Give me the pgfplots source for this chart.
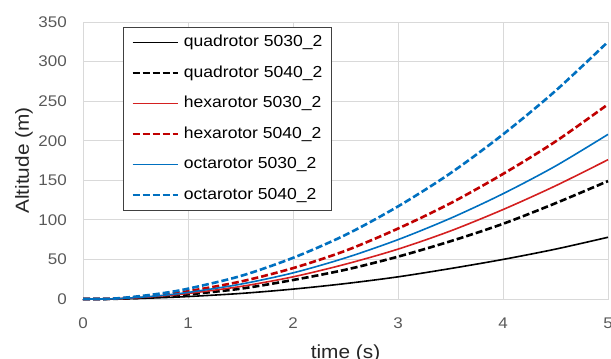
\documentclass[border=0pt]{standalone}
\usepackage{fontspec}
\setmainfont{Liberation Sans}[FakeStretch=1.1]
\usepackage{pgfplots}
\pgfplotsset{compat=1.18}
\definecolor{tickgray}{HTML}{595959}
\definecolor{gridgray}{HTML}{D9D9D9}
\definecolor{myred}{HTML}{C00000}
\definecolor{myredl}{HTML}{D42020}
\definecolor{myblue}{HTML}{0070C0}
\begin{document}
\begin{tikzpicture}
\begin{axis}[
 scale only axis, width=525bp, height=277bp,
 xmin=0, xmax=5, ymin=0, ymax=350,
 xtick={0,1,2,3,4,5}, ytick={0,50,100,150,200,250,300,350},
 grid=major, major grid style={draw=gridgray, line width=0.8bp},
 axis line style={draw=gridgray, line width=0.8bp},
 tick style={draw=none},
 clip=false,
 /pgf/number format/assume math mode=true,
 ticklabel style={font=\fontsize{15.5}{15.5}\selectfont, text=tickgray},
 xticklabel style={inner sep=0pt, anchor=north, yshift=-19bp},
 yticklabel style={inner sep=0pt, anchor=east, xshift=-16bp},
 xlabel={time (s)}, ylabel={Altitude (m)},
 label style={font=\fontsize{19}{19}\selectfont, text=black!85},
 xlabel style={at={(axis description cs:0.5,-0.213)}, anchor=base, inner sep=0pt},
 ylabel style={at={(axis description cs:-0.1124,0.5)}, anchor=center, inner sep=0pt},
 legend style={at={(axis description cs:0.076,0.982)}, anchor=north west,
   draw=black!75, line width=0.8bp, fill=white,
   font=\fontsize{16}{16}\selectfont,
   inner xsep=8bp, inner ysep=7bp, row sep=14bp, column sep=4bp,
   nodes={inner sep=1bp, text height=11.5bp, text depth=3bp}},
 legend cell align=left,
 legend image code/.code={\draw[#1] (0bp,0bp) -- (45bp,0bp);},
]
\addplot[black, line width=1.6bp, smooth] coordinates {
(0,0) (0.25,0) (0.5,0.6) (0.75,1.7) (1,3.1) (1.5,7) (2,12.5) (2.5,19.5) (3,28) (3.5,38.5) (4,50) (4.5,63) (5,78)};
\addlegendentry{quadrotor 5030\_2}
\addplot[black, line width=2.6bp, dash pattern=on 7bp off 3bp, smooth] coordinates {
(0,0) (0.25,0.1) (0.5,1.2) (0.75,3.2) (1,5.8) (1.5,13) (2,24) (2.5,37) (3,53.5) (3.5,73) (4,95) (4.5,121) (5,149)};
\addlegendentry{quadrotor 5040\_2}
\addplot[myredl, line width=1.6bp, smooth] coordinates {
(0,0) (0.25,0.1) (0.5,1.5) (0.75,3.8) (1,7) (1.5,15.8) (2,28) (2.5,44) (3,63) (3.5,86) (4,113) (4.5,143) (5,176)};
\addlegendentry{hexarotor 5030\_2}
\addplot[myred, line width=2.6bp, dash pattern=on 7bp off 3bp, smooth] coordinates {
(0,0) (0.25,0.2) (0.5,2.2) (0.75,5.4) (1,9.8) (1.5,22) (2,39) (2.5,61) (3,89) (3.5,121) (4,158) (4.5,199) (5,246)};
\addlegendentry{hexarotor 5040\_2}
\addplot[myblue, line width=1.6bp, smooth] coordinates {
(0,0) (0.25,0.1) (0.5,1.8) (0.75,4.5) (1,8.3) (1.5,18.7) (2,33) (2.5,52) (3,75) (3.5,102) (4,133) (4.5,168) (5,208)};
\addlegendentry{octarotor 5030\_2}
\addplot[myblue, line width=2.6bp, dash pattern=on 7bp off 3bp, smooth] coordinates {
(0,0) (0.25,0.2) (0.5,3) (0.75,7.2) (1,13) (1.5,29) (2,52) (2.5,81) (3,117) (3.5,159) (4,208) (4.5,263) (5,325)};
\addlegendentry{octarotor 5040\_2}
\coordinate (O) at (rel axis cs:0,0);
\coordinate (T) at (rel axis cs:1,1);
\end{axis}
\pgfresetboundingbox
\path ([shift={(-83bp,-59bp)}]O) rectangle ([shift={(3bp,22bp)}]T);
\end{tikzpicture}
\end{document}
